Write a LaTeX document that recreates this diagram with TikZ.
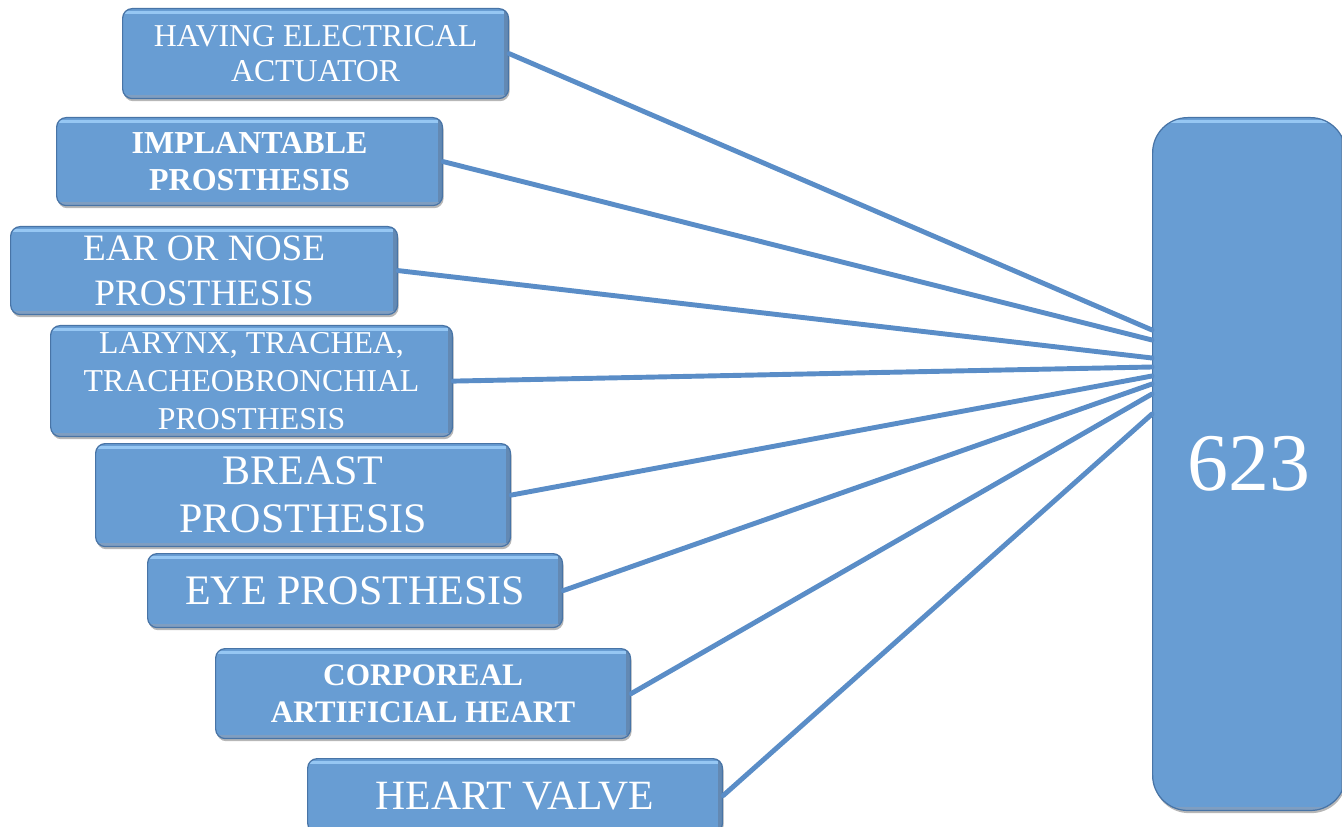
\documentclass[tikz,border=0pt]{standalone}
\usepackage{fontspec}
\setmainfont{Liberation Serif}
\usetikzlibrary{shadows,calc}
\definecolor{boxblue}{RGB}{104,157,211}
\definecolor{boxedge}{RGB}{72,116,166}
\definecolor{boxlight}{RGB}{150,199,243}
\definecolor{linkblue}{RGB}{90,141,199}
\tikzset{
  catbox/.style={draw=boxedge, line width=0.7pt, fill=boxblue, rounded corners=5.5pt,
    text=white, align=center, inner sep=0pt, anchor=north west,
    drop shadow={shadow xshift=0.6pt, shadow yshift=-1.5pt, opacity=0.4, fill=black!70},
    path picture={
      \draw[boxlight, line width=1.6pt]
        ([yshift=-2pt]path picture bounding box.north west) -- ([yshift=-2pt]path picture bounding box.north east);
      \draw[boxedge!85, line width=2pt]
        ([xshift=-1.4pt]path picture bounding box.north east) -- ([xshift=-1.4pt]path picture bounding box.south east);
      \draw[boxedge!70, line width=1.6pt]
        ([yshift=1.3pt]path picture bounding box.south west) -- ([yshift=1.3pt]path picture bounding box.south east);
    }},
  totalbox/.style={catbox, rounded corners=20pt},
  link/.style={linkblue, line width=2.8pt, line cap=round},
}
\begin{document}
\begin{tikzpicture}[x=0.02cm, y=-0.02cm]
  \useasboundingbox (0,0) rectangle (1342,827);
  \clip (0,0) rectangle (1342,827);
  % categories on the left
  \node[catbox, minimum width=7.72cm, minimum height=1.8cm, font=\fontsize{18.1}{19.8}\selectfont]
    (actuator) at (122,8) {HAVING ELECTRICAL\\ACTUATOR};
  \node[catbox, minimum width=7.72cm, minimum height=1.76cm, font=\fontsize{18.2}{21}\selectfont\bfseries]
    (implant) at (56,117) {IMPLANTABLE\\PROSTHESIS};
  \node[catbox, minimum width=7.74cm, minimum height=1.76cm, font=\fontsize{21.2}{25.5}\selectfont]
    (earnose) at (10,226) {EAR OR NOSE\\PROSTHESIS};
  \node[catbox, minimum width=8.04cm, minimum height=2.22cm, font=\fontsize{18.1}{21.5}\selectfont]
    (larynx) at (50,325) {LARYNX, TRACHEA,\\TRACHEOBRONCHIAL\\PROSTHESIS};
  \node[catbox, minimum width=8.3cm, minimum height=2.06cm, font=\fontsize{23.9}{27.2}\selectfont]
    (breast) at (95,443) {BREAST\\PROSTHESIS};
  \node[catbox, minimum width=8.3cm, minimum height=1.48cm, font=\fontsize{23.9}{27.2}\selectfont]
    (eye) at (147,553) {EYE PROSTHESIS};
  \node[catbox, minimum width=8.3cm, minimum height=1.8cm, font=\fontsize{17.8}{21}\selectfont\bfseries]
    (heart) at (215,648) {CORPOREAL\\ARTIFICIAL HEART};
  \node[catbox, minimum width=8.3cm, minimum height=1.48cm, font=\fontsize{23.7}{27}\selectfont]
    (valve) at (307,758) {HEART VALVE};
  % total on the right
  \node[totalbox, minimum width=3.86cm, minimum height=13.86cm, font=\fontsize{46.6}{50}\selectfont]
    (total) at (1152,117) {\raisebox{-11pt}{623}};
  % links into the total
  \foreach \src/\dy in {actuator/213, implant/223, earnose/241, larynx/250,
                        breast/259, eye/267, heart/277, valve/297}
    \draw[link] (\src.east) -- ($(total.north west)+(0,\dy)$);
\end{tikzpicture}
\end{document}
